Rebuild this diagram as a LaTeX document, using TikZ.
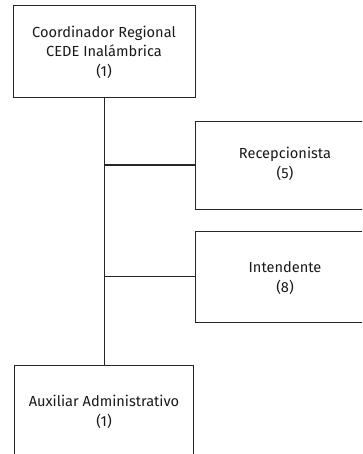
\documentclass[tikz,border=0pt]{standalone}
\usepackage{fontspec}
\setmainfont{Fira Sans}
\begin{document}
\begin{tikzpicture}[x=1pt,y=-1pt,
  box/.style={draw=black!85, line width=0.9pt, rectangle, inner sep=0pt, outer sep=0pt},
  lbl/.style={font=\fontsize{14.6}{19.5}\selectfont, align=center, text=black!90, inner sep=0pt},
  conn/.style={draw=black!85, line width=1.5pt}]
\useasboundingbox (0,0) rectangle (362,454);
\begin{scope}
\clip (0,0) rectangle (362,454);
\node[box, minimum width=182pt, minimum height=92pt] (topbox) at (104.5,51) {};
\node[box, minimum width=185pt, minimum height=88pt] (recbox) at (287.5,165) {};
\node[box, minimum width=185pt, minimum height=91pt] (intbox) at (287.5,276.5) {};
\node[box, minimum width=179pt, minimum height=105pt] (auxbox) at (103.5,417.5) {};
\end{scope}
\node[lbl] (top) at (104,52) {Coordinador Regional\\CEDE Inalámbrica\\(1)};
\node[lbl] (rec) at (285,164) {Recepcionista\\(5)};
\node[lbl] (int) at (285,278) {Intendente\\(8)};
\node[lbl] (aux) at (104,412) {Auxiliar Administrativo\\(1)};
\draw[conn] (topbox.south) -- (topbox.south |- auxbox.north);
\draw[conn] (topbox.south |- recbox.west) -- (recbox.west);
\draw[conn] (topbox.south |- intbox.west) -- (intbox.west);
\end{tikzpicture}
\end{document}
